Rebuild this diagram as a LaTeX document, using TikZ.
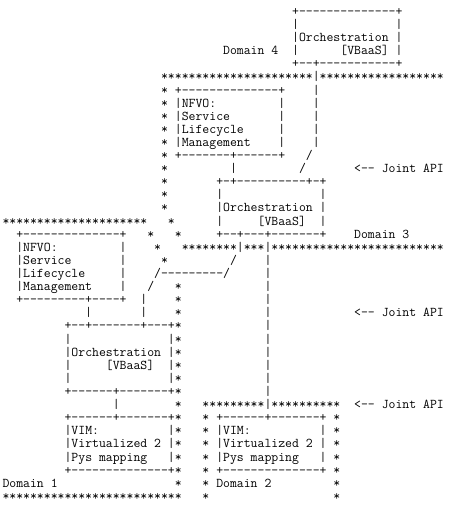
\documentclass[tikz,border=0pt]{standalone}
\newlength\cw
\newcommand\asciifont{\fontsize{13.39}{13.1}\selectfont\ttfamily}
\newcommand\seg[2]{\makebox[0pt][l]{\hspace*{#1\cw}#2}}
\newcommand\asciirow[3]{\node[asciiline] (#2) at (2,{-15.35-13.108*(#1-1)}) {#3};}
\begin{document}
\settowidth{\cw}{\asciifont M}%
\begin{tikzpicture}[x=1pt,y=1pt,
  asciiline/.style={anchor=base west,inner sep=0pt,outer sep=0pt,font=\asciifont}]
\fill[white] (0,0) rectangle (454,-507);
\useasboundingbox (0,0) rectangle (454,-507);
\asciirow{1}{l1}{\seg{42}{+--------------+}}
\asciirow{2}{l2}{\seg{42}{|}\seg{57}{|}}
\asciirow{3}{l3}{\seg{42}{|Orchestration |}}
\asciirow{4}{l4}{\seg{32}{Domain 4}\seg{42}{|}\seg{49}{[VBaaS]}\seg{57}{|}}
\asciirow{5}{l5}{\seg{42}{+--+-----------+}}
\asciirow{6}{l6}{\seg{23}{**********************|******************}}
\asciirow{7}{l7}{\seg{23}{*}\seg{25}{+--------------+}\seg{45}{|}}
\asciirow{8}{l8}{\seg{23}{*}\seg{25}{|NFVO:}\seg{40}{|}\seg{45}{|}}
\asciirow{9}{l9}{\seg{23}{*}\seg{25}{|Service}\seg{40}{|}\seg{45}{|}}
\asciirow{10}{l10}{\seg{23}{*}\seg{25}{|Lifecycle}\seg{40}{|}\seg{45}{|}}
\asciirow{11}{l11}{\seg{23}{*}\seg{25}{|Management}\seg{40}{|}\seg{45}{|}}
\asciirow{12}{l12}{\seg{23}{*}\seg{25}{+-------+------+}\seg{44}{/}}
\asciirow{13}{l13}{\seg{23}{*}\seg{33}{|}\seg{43}{/}\seg{51}{<-- Joint API}}
\asciirow{14}{l14}{\seg{23}{*}\seg{31}{+-+----------+-+}}
\asciirow{15}{l15}{\seg{23}{*}\seg{31}{|}\seg{46}{|}}
\asciirow{16}{l16}{\seg{23}{*}\seg{31}{|Orchestration |}}
\asciirow{17}{l17}{\seg{0}{*********************}\seg{24}{*}\seg{31}{|}\seg{37}{[VBaaS]}\seg{46}{|}}
\asciirow{18}{l18}{\seg{2}{+--------------+}\seg{21}{*}\seg{25}{*}\seg{31}{+--+---+-------+}\seg{51}{Domain 3}}
\asciirow{19}{l19}{\seg{2}{|NFVO:}\seg{17}{|}\seg{22}{*}\seg{26}{********|***|*************************}}
\asciirow{20}{l20}{\seg{2}{|Service}\seg{17}{|}\seg{23}{*}\seg{33}{/}\seg{38}{|}}
\asciirow{21}{l21}{\seg{2}{|Lifecycle}\seg{17}{|}\seg{22}{/---------/}\seg{38}{|}}
\asciirow{22}{l22}{\seg{2}{|Management}\seg{17}{|}\seg{21}{/}\seg{25}{*}\seg{38}{|}}
\asciirow{23}{l23}{\seg{2}{+---------+----+}\seg{20}{|}\seg{25}{*}\seg{38}{|}}
\asciirow{24}{l24}{\seg{12}{|}\seg{20}{|}\seg{25}{*}\seg{38}{|}\seg{51}{<-- Joint API}}
\asciirow{25}{l25}{\seg{9}{+--+-------+---+*}\seg{38}{|}}
\asciirow{26}{l26}{\seg{9}{|}\seg{24}{|*}\seg{38}{|}}
\asciirow{27}{l27}{\seg{9}{|Orchestration |*}\seg{38}{|}}
\asciirow{28}{l28}{\seg{9}{|}\seg{15}{[VBaaS]}\seg{24}{|*}\seg{38}{|}}
\asciirow{29}{l29}{\seg{9}{|}\seg{24}{|*}\seg{38}{|}}
\asciirow{30}{l30}{\seg{9}{+------+-------+*}\seg{38}{|}}
\asciirow{31}{l31}{\seg{16}{|}\seg{25}{*}\seg{29}{*********|**********}\seg{51}{<-- Joint API}}
\asciirow{32}{l32}{\seg{9}{+------+-------+*}\seg{29}{*}\seg{31}{+------+-------+}\seg{48}{*}}
\asciirow{33}{l33}{\seg{9}{|VIM:}\seg{24}{|*}\seg{29}{*}\seg{31}{|VIM:}\seg{46}{|}\seg{48}{*}}
\asciirow{34}{l34}{\seg{9}{|Virtualized 2 |*}\seg{29}{*}\seg{31}{|Virtualized 2 |}\seg{48}{*}}
\asciirow{35}{l35}{\seg{9}{|Pys mapping}\seg{24}{|*}\seg{29}{*}\seg{31}{|Pys mapping}\seg{46}{|}\seg{48}{*}}
\asciirow{36}{l36}{\seg{9}{+--------------+*}\seg{29}{*}\seg{31}{+--------------+}\seg{48}{*}}
\asciirow{37}{l37}{\seg{0}{Domain 1}\seg{25}{*}\seg{29}{* Domain 2}\seg{48}{*}}
\asciirow{38}{l38}{\seg{0}{**************************}\seg{29}{*}\seg{48}{*}}
\end{tikzpicture}
\end{document}
